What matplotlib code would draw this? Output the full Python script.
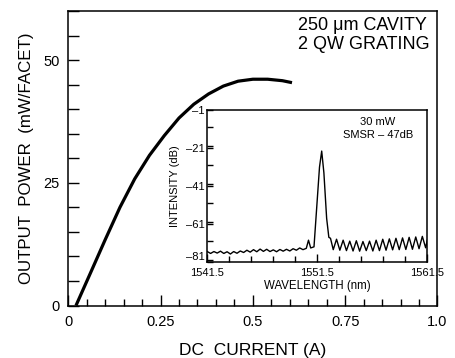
import matplotlib
matplotlib.use("Agg")
import matplotlib.pyplot as plt
from matplotlib.ticker import MultipleLocator, FixedLocator

plt.rcParams['font.family'] = ['Liberation Sans', 'DejaVu Sans']

# Main L-I curve
current = [0.021, 0.06, 0.10, 0.14, 0.18, 0.22, 0.26, 0.30, 0.34, 0.38, 0.42, 0.46, 0.50, 0.54, 0.58, 0.606]
power = [0.0, 6.6, 13.4, 20.0, 25.8, 30.6, 34.6, 38.2, 41.0, 43.1, 44.7, 45.7, 46.1, 46.1, 45.8, 45.4]

# Inset spectrum
wavelength = [1541.5, 1541.8, 1542.1, 1542.4, 1542.7, 1543.0, 1543.3, 1543.6, 1543.9, 1544.2,
              1544.5, 1544.8, 1545.1, 1545.4, 1545.7, 1546.0, 1546.3, 1546.6, 1546.9, 1547.2,
              1547.5, 1547.8, 1548.1, 1548.4, 1548.7, 1549.0, 1549.3, 1549.6, 1549.9, 1550.2,
              1550.5, 1550.7, 1550.9, 1551.2, 1551.45, 1551.7, 1551.9, 1552.1, 1552.35, 1552.55,
              1552.7, 1552.95, 1553.25, 1553.55, 1553.85, 1554.15, 1554.45, 1554.75, 1555.05, 1555.35,
              1555.65, 1555.95, 1556.25, 1556.55, 1556.85, 1557.15, 1557.45, 1557.75, 1558.05, 1558.35,
              1558.65, 1558.95, 1559.25, 1559.55, 1559.85, 1560.15, 1560.45, 1560.75, 1561.05, 1561.35,
              1561.5]
intensity = [-75.5, -76.5, -75.5, -76.3, -75.3, -76.5, -75.6, -76.8, -75.5, -76.4,
             -75.2, -76.0, -74.8, -75.8, -74.5, -75.6, -74.2, -75.4, -74.3, -75.5,
             -74.6, -75.6, -74.4, -75.3, -74.3, -75.2, -74.0, -74.8, -73.6, -74.5,
             -73.8, -69.5, -73.6, -73.0, -52.0, -31.0, -22.5, -34.0, -58.0, -68.0,
             -68.5, -74.5, -69.0, -74.8, -69.5, -75.0, -70.0, -75.2, -69.8, -75.3,
             -70.2, -75.0, -70.0, -75.2, -69.5, -75.0, -69.0, -74.8, -68.8, -74.6,
             -68.5, -74.5, -68.3, -74.4, -68.0, -74.3, -67.8, -74.0, -67.5, -73.5,
             -69.5]

x_ticklabels = ['0', '0.25', '0.5', '0.75', '1.0']
y_ticklabels = ['0', '25', '50']
inset_yticks = [-81, -61, -41, -21, -1]
inset_ylabels = ['\u201381', '\u201361', '\u201341', '\u201321', '\u20131']
inset_xticks = [1541.5, 1551.5, 1561.5]
inset_xlabels = ['1541.5', '1551.5', '1561.5']

fig = plt.figure(figsize=(4.55, 3.58), dpi=100)
ax = fig.add_axes([0.150, 0.1466, 0.8115, 0.8227])
ax.plot(current, power, color='black', lw=2.3, solid_capstyle='butt', solid_joinstyle='round')
ax.set_xlim(0, 1.0)
ax.set_ylim(0, 60)
ax.set_xticks([0, 0.25, 0.5, 0.75, 1.0])
ax.set_xticklabels(x_ticklabels)
ax.xaxis.set_minor_locator(MultipleLocator(0.05))
ax.set_yticks([0, 25, 50])
ax.set_yticklabels(y_ticklabels)
ax.yaxis.set_minor_locator(MultipleLocator(5))
ax.tick_params(which='both', direction='in', top=False, right=False, width=1.0)
ax.tick_params(axis='x', which='major', length=8, pad=7, labelsize=10.5)
ax.tick_params(axis='x', which='minor', length=5)
ax.tick_params(axis='y', which='major', length=8, pad=6, labelsize=10.5)
ax.tick_params(axis='y', which='minor', length=8)
for s in ax.spines.values():
    s.set_linewidth(1.1)
ax.set_xlabel('DC  CURRENT (A)', fontsize=12.5, labelpad=10)
ax.set_ylabel('OUTPUT  POWER  (mW/FACET)', fontsize=12.2, labelpad=7)
ax.text(0.621, 0.918, '250 μm CAVITY\n2 QW GRATING', transform=ax.transAxes,
        fontsize=13, ha='left', va='center', linespacing=1.15)

ins = fig.add_axes([0.4556, 0.2682, 0.4835, 0.4237])
ins.set_facecolor('white')
ins.plot(wavelength, intensity, color='black', lw=1.0)
ins.set_xlim(1541.5, 1561.5)
ins.set_ylim(-81, -1)
ins.set_yticks(inset_yticks)
ins.set_yticklabels(inset_ylabels)
ins.yaxis.set_minor_locator(MultipleLocator(10))
ins.set_xticks(inset_xticks)
ins.set_xticklabels(inset_xlabels)
ins.xaxis.set_minor_locator(FixedLocator([1543.5, 1545.5, 1547.5, 1549.5, 1553.5, 1555.5, 1557.5, 1559.5]))
ins.tick_params(which='both', direction='in', top=False, right=False, width=1.0)
ins.tick_params(axis='x', which='major', length=6, pad=4, labelsize=8)
ins.tick_params(axis='x', which='minor', length=4)
ins.tick_params(axis='y', which='major', length=4, pad=2, labelsize=8)
ins.tick_params(axis='y', which='minor', length=4)
ins.get_yticklabels()[0].set_va('bottom')
for s in ins.spines.values():
    s.set_linewidth(1.1)
ins.set_xlabel('WAVELENGTH (nm)', fontsize=8.3, labelpad=2)
ins.set_ylabel('INTENSITY (dB)', fontsize=8.0, labelpad=4)
ins.text(0.775, 0.88, '30 mW\nSMSR \u2013 47dB', transform=ins.transAxes,
         fontsize=8, ha='center', va='center', linespacing=1.3)

fig.savefig('out.png', dpi=100)
